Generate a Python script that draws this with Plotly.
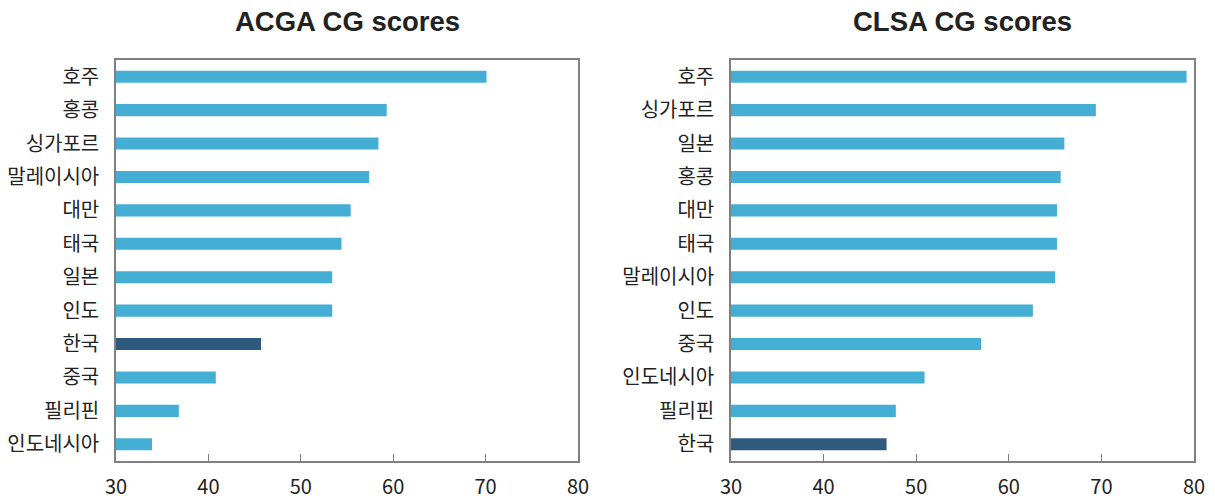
import plotly.graph_objects as go

acga_countries = ["호주", "홍콩", "싱가포르", "말레이시아", "대만", "태국", "일본", "인도", "한국", "중국", "필리핀", "인도네시아"]
acga_scores = [70.1, 59.3, 58.4, 57.4, 55.4, 54.4, 53.4, 53.4, 45.7, 40.8, 36.8, 33.9]

clsa_countries = ["호주", "싱가포르", "일본", "홍콩", "대만", "태국", "말레이시아", "인도", "중국", "인도네시아", "필리핀", "한국"]
clsa_scores = [79.2, 69.4, 66.0, 65.6, 65.2, 65.2, 65.0, 62.6, 57.0, 50.9, 47.8, 46.8]

x_ticks = [30, 40, 50, 60, 70, 80]
titles = ["ACGA CG scores", "CLSA CG scores"]

LIGHT = "#44AED4"
DARK = "#2F5A7E"
HIGHLIGHT = "한국"

def colors(cats):
    return [DARK if c == HIGHLIGHT else LIGHT for c in cats]

fig = go.Figure()
fig.add_trace(go.Bar(y=acga_countries, x=acga_scores, orientation="h",
                     marker=dict(color=colors(acga_countries), line=dict(width=0)),
                     xaxis="x", yaxis="y", showlegend=False))
fig.add_trace(go.Bar(y=clsa_countries, x=clsa_scores, orientation="h",
                     marker=dict(color=colors(clsa_countries), line=dict(width=0)),
                     xaxis="x2", yaxis="y2", showlegend=False))

font_kr = "Noto Sans CJK KR"
axis_common = dict(range=[30, 80], tickvals=x_ticks, ticks="inside", ticklen=7,
                   tickcolor="#808080", showline=True, linecolor="#808080", linewidth=1.5,
                   mirror=True, showgrid=False, zeroline=False, automargin=False,
                   ticklabelstandoff=7,
                   tickfont=dict(family=font_kr, size=20, color="#222222"))
yaxis_common = dict(autorange="reversed", ticks="", showline=True, linecolor="#808080",
                    linewidth=1.5, mirror=True, showgrid=False, zeroline=False,
                    automargin=False, ticklabelstandoff=11,
                    tickfont=dict(family=font_kr, size=20, color="#222222"))

W, H = 1215, 503
T, B = 60, 42
plot_h = H - T - B
title_y = (H - B - 22) / plot_h

fig.update_layout(
    width=W, height=H,
    margin=dict(l=0, r=0, t=T, b=B, autoexpand=False),
    plot_bgcolor="white", paper_bgcolor="white",
    bargap=0.64,
    xaxis=dict(domain=[116/W, 578/W], anchor="y", **axis_common),
    yaxis=dict(domain=[0, 1], anchor="x", **yaxis_common),
    xaxis2=dict(domain=[731/W, 1194/W], anchor="y2", **axis_common),
    yaxis2=dict(domain=[0, 1], anchor="x2", **yaxis_common),
    annotations=[
        dict(text="<b>" + titles[0] + "</b>", x=(116+578)/2/W, y=title_y, xref="paper", yref="paper",
             xanchor="center", yanchor="middle", showarrow=False,
             font=dict(family="Liberation Sans", size=27.5, color="#222222")),
        dict(text="<b>" + titles[1] + "</b>", x=(731+1194)/2/W, y=title_y, xref="paper", yref="paper",
             xanchor="center", yanchor="middle", showarrow=False,
             font=dict(family="Liberation Sans", size=27.5, color="#222222")),
    ],
)

fig.write_html("out.html", config={"displayModeBar": False},
               post_script="document.body.style.margin='0';document.body.style.padding='0';")
